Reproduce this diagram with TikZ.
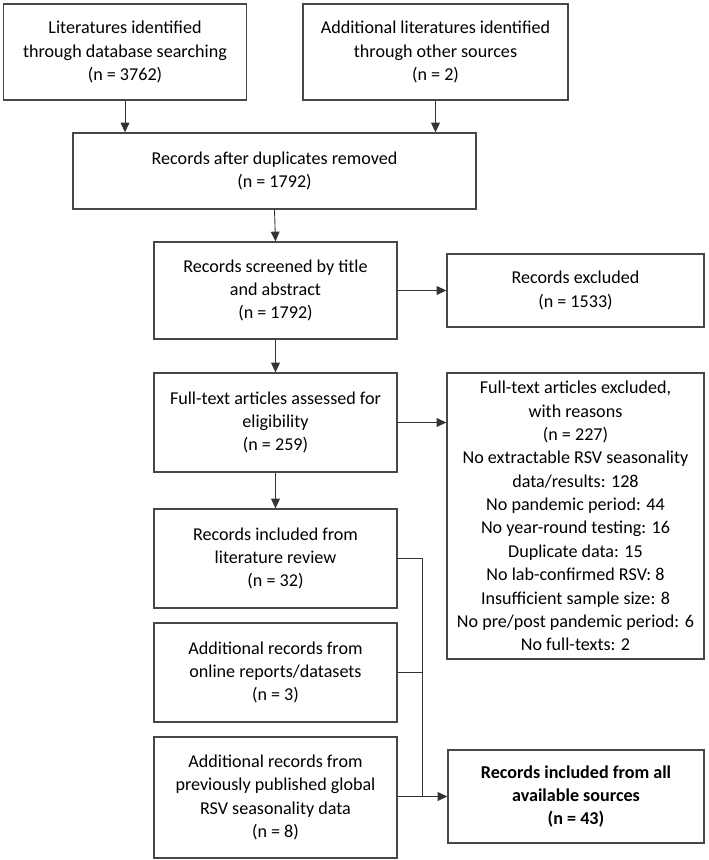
\documentclass[tikz,border=0pt]{standalone}
\usepackage{fontspec}
\setmainfont{Carlito}
\usetikzlibrary{arrows.meta, positioning}

\begin{document}
\begin{tikzpicture}[x=0.02cm, y=-0.02cm,
    box/.style={shape=rectangle, draw=black!72, line width=0.8pt, align=center,
        inner sep=0pt, font=\fontsize{10.3}{13.3}\selectfont},
    edge/.style={draw=black!80, line width=0.5pt},
    arr/.style={edge, -{Triangle[length=5.5pt, width=5pt]}}]
    \useasboundingbox (0,0) rectangle (709,860);
    % Define nodes
    \node[box, minimum width=4.86cm, minimum height=1.92cm] (ident) at (125,52)
        {Literatures identified\\through database searching\\(n = 3762)};
    \node[box, minimum width=5.30cm, minimum height=1.92cm] (other) at (435.5,52)
        {Additional literatures identified\\through other sources\\(n = 2)};
    \node[box, minimum width=8.06cm, minimum height=1.52cm] (dedup) at (274.5,171)
        {Records after duplicates removed\\(n = 1792)};
    \node[box, minimum width=4.86cm, minimum height=1.94cm] (screen) at (275.5,290.5)
        {Records screened by title\\and abstract\\(n = 1792)};
    \node[box, minimum width=5.14cm, minimum height=1.46cm] (excl) at (575.5,290.5)
        {Records excluded\\(n = 1533)};
    \node[box, minimum width=4.86cm, minimum height=1.98cm] (full) at (275.5,422.5)
        {Full-text articles assessed for\\eligibility\\(n = 259)};
    \node[box, minimum width=5.14cm, minimum height=5.72cm] (fullexcl) at (575.5,516)
        {Full-text articles excluded,\\with reasons\\(n = 227)\\
         No extractable RSV seasonality\\data/results: 128\\
         No pandemic period: 44\\No year-round testing: 16\\
         Duplicate data: 15\\No lab-confirmed RSV: 8\\
         Insufficient sample size: 8\\No pre/post pandemic period: 6\\
         No full-texts: 2};
    \node[box, minimum width=4.86cm, minimum height=1.98cm] (review) at (275.5,558.5)
        {Records included from\\literature review\\(n = 32)};
    \node[box, minimum width=4.86cm, minimum height=1.98cm] (online) at (275.5,672.5)
        {Additional records from\\online reports/datasets\\(n = 3)};
    \node[box, minimum width=4.86cm, minimum height=2.42cm] (global) at (275.5,797.5)
        {Additional records from\\previously published global\\RSV seasonality data\\(n = 8)};
    \node[box, minimum width=5.12cm, minimum height=1.86cm,
        font=\fontsize{10.3}{13.3}\selectfont\bfseries] (total) at (576,796.5)
        {Records included from all\\available sources\\(n = 43)};
    \coordinate (bus) at (422,796.5);
    % Draw edges
    \draw[arr] (ident.south) -- (ident.south |- dedup.north);
    \draw[arr] (other.south) -- (other.south |- dedup.north);
    \draw[arr] (dedup.south) -- (screen.north);
    \draw[arr] (screen.east) -- (excl.west);
    \draw[arr] (screen.south) -- (full.north);
    \draw[arr] (full.east) -- (full.east -| fullexcl.west);
    \draw[arr] (full.south) -- (review.north);
    \draw[edge] (review.east) -| (bus);
    \draw[edge] (online.east) -- (online.east -| bus);
    \draw[arr] (global.east |- bus) -- (total.west);

\end{tikzpicture}
\end{document}
